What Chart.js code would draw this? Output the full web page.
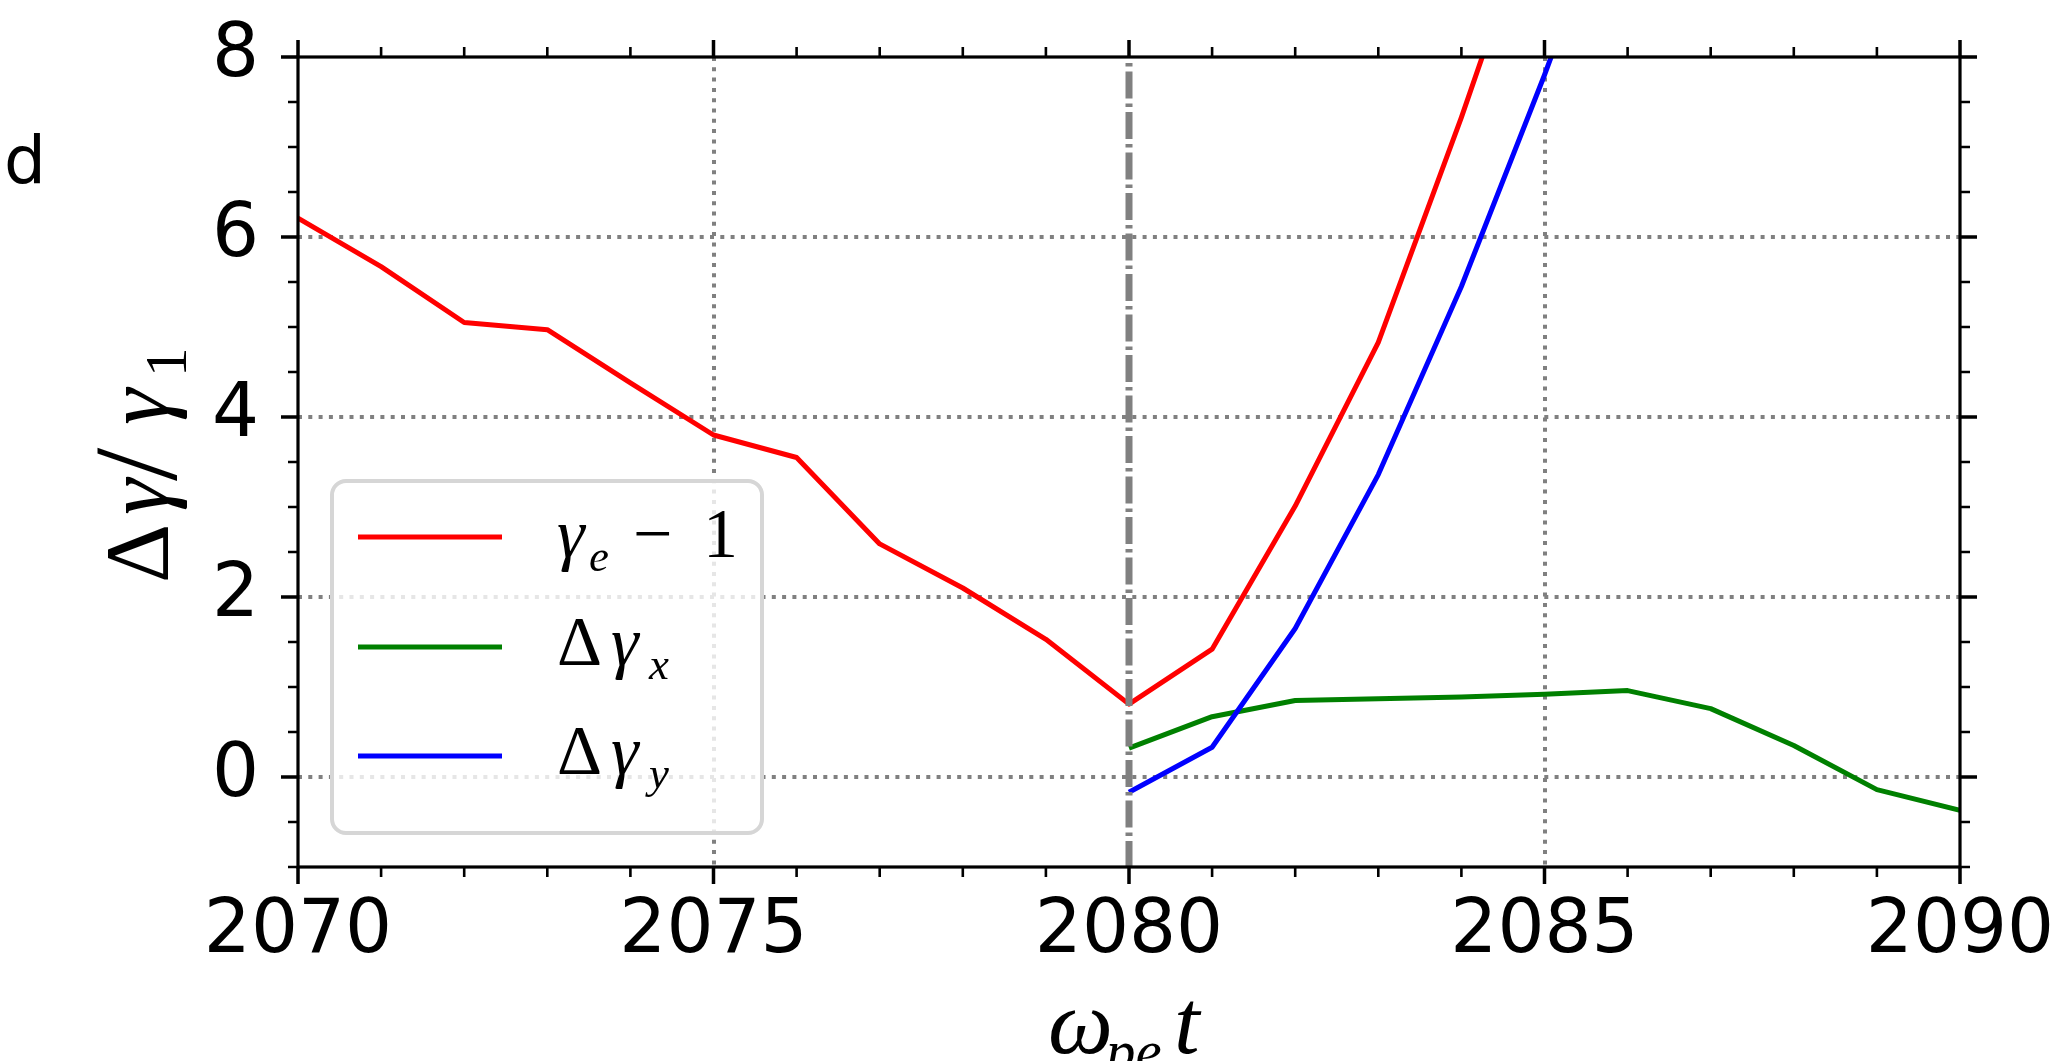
<!DOCTYPE html>
<html>
<head>
<meta charset="utf-8">
<script src="https://cdn.jsdelivr.net/npm/chart.js@4.4.0/dist/chart.umd.min.js"></script>
<style>
  html, body { margin: 0; padding: 0; background: #ffffff; }
  canvas { display: block; }
</style>
</head>
<body>
<canvas id="chart" width="2065" height="1061"></canvas>
<script>
// Axis ranges and tick labels
const timeStart = 2070;
const timeEnd = 2090;
const gammaMin = -1;
const gammaMax = 8;
const xTickLabels = [2070, 2075, 2080, 2085, 2090];
const yTickLabels = [0, 2, 4, 6, 8];

// gamma_e - 1
const redTimes  = [2070, 2071, 2072, 2073, 2074, 2075, 2076, 2077, 2078, 2079, 2080, 2081, 2082, 2083, 2084, 2085];
const redValues = [6.21, 5.67, 5.05, 4.97, 4.38, 3.80, 3.55, 2.59, 2.10, 1.53, 0.81, 1.42, 3.01, 4.83, 7.33, 10.0];

// Delta gamma_x
const greenTimes  = [2080, 2081, 2082, 2083, 2084, 2085, 2086, 2087, 2088, 2089, 2090];
const greenValues = [0.32, 0.67, 0.85, 0.87, 0.89, 0.92, 0.96, 0.76, 0.35, -0.14, -0.37];

// Delta gamma_y
const blueTimes  = [2080, 2081, 2082, 2083, 2084, 2085, 2086];
const blueValues = [-0.17, 0.33, 1.65, 3.36, 5.45, 7.80, 10.3];

// Time of the marked event
const markerTime = 2080;
const panelLetter = 'd';

const toPoints = (xs, ys) => xs.map((x, i) => ({ x: x, y: ys[i] }));

// minor tick positions
const xMinorTicks = [];
for (let t = timeStart; t <= timeEnd; t += 1) xMinorTicks.push(t);
const yMinorTicks = [];
for (let g = gammaMin; g <= gammaMax + 1e-9; g += 0.5) yMinorTicks.push(g);

const TICK_FONT = { family: '"DejaVu Sans"', size: 74, lineHeight: 1 };
const MATH_FONT = '"Liberation Serif", "DejaVu Serif", serif';

// draw a sequence of glyph runs; each run: text, italic, sub, position offset
function drawRuns(ctx, runs, size) {
  for (const r of runs) {
    const s = (r.sub ? size * 0.64 : size) * (r.k || 1);
    ctx.font = (r.it ? 'italic ' : '') + s + 'px ' + MATH_FONT;
    ctx.fillText(r.t, r.x, (r.sub ? size * 0.2 : 0) + (r.dy || 0));
  }
}

// dash-dot vertical marker drawn over the curves, inside the plot area
const markerLine = {
  id: 'markerLine',
  afterDatasetsDraw(chart) {
    const ctx = chart.ctx;
    const a = chart.chartArea;
    const px = chart.scales.x.getPixelForValue(markerTime);
    ctx.save();
    ctx.beginPath();
    ctx.rect(a.left, a.top, a.right - a.left, a.bottom - a.top);
    ctx.clip();
    ctx.strokeStyle = '#808080';
    ctx.lineWidth = 7;
    ctx.lineCap = 'butt';
    ctx.setLineDash([27, 5, 3.5, 5]);
    ctx.lineDashOffset = 26;
    ctx.beginPath();
    ctx.moveTo(px, chart.scales.y.getPixelForValue(gammaMax));
    ctx.lineTo(px, chart.scales.y.getPixelForValue(gammaMin));
    ctx.stroke();
    ctx.restore();
  }
};

const decorations = {
  id: 'decorations',
  afterDraw(chart) {
    const ctx = chart.ctx;
    const a = chart.chartArea;
    const xs = chart.scales.x, ys = chart.scales.y;
    ctx.save();

    // frame
    ctx.strokeStyle = '#000';
    ctx.lineWidth = 3.2;
    ctx.strokeRect(a.left, a.top, a.right - a.left, a.bottom - a.top);

    // outward ticks on all four sides
    ctx.lineCap = 'butt';
    for (const v of xMinorTicks) {
      const major = xTickLabels.includes(v);
      const len = major ? 17 : 10;
      ctx.lineWidth = major ? 3.5 : 2.6;
      const px = xs.getPixelForValue(v);
      ctx.beginPath();
      ctx.moveTo(px, a.bottom); ctx.lineTo(px, a.bottom + len);
      ctx.moveTo(px, a.top); ctx.lineTo(px, a.top - len);
      ctx.stroke();
    }
    for (const v of yMinorTicks) {
      const major = yTickLabels.includes(v);
      const len = major ? 17 : 10;
      ctx.lineWidth = major ? 3.5 : 2.6;
      const py = ys.getPixelForValue(v);
      ctx.beginPath();
      ctx.moveTo(a.left, py); ctx.lineTo(a.left - len, py);
      ctx.moveTo(a.right, py); ctx.lineTo(a.right + len, py);
      ctx.stroke();
    }

    // legend box
    const lx = 332, ly = 481, lw = 430, lh = 352, rad = 14;
    ctx.beginPath();
    ctx.roundRect(lx, ly, lw, lh, rad);
    ctx.fillStyle = 'rgba(255,255,255,0.8)';
    ctx.fill();
    ctx.lineWidth = 4;
    ctx.strokeStyle = '#d6d6d6';
    ctx.stroke();

    const entries = [
      { color: chart.data.datasets[2].borderColor, lineY: 537, base: 557,
        runs: [{ t: 'γ', it: true, x: 0 }, { t: 'e', it: true, sub: true, x: 32 },
               { t: '−', x: 76 }, { t: '1', x: 146 }] },
      { color: chart.data.datasets[1].borderColor, lineY: 647, base: 665,
        runs: [{ t: 'Δ', x: 0 }, { t: 'γ', it: true, x: 54 }, { t: 'x', it: true, sub: true, x: 92 }] },
      { color: chart.data.datasets[0].borderColor, lineY: 756, base: 774,
        runs: [{ t: 'Δ', x: 0 }, { t: 'γ', it: true, x: 54 }, { t: 'y', it: true, sub: true, x: 92 }] }
    ];
    ctx.lineWidth = 4.8;
    ctx.fillStyle = '#000';
    ctx.textBaseline = 'alphabetic';
    ctx.textAlign = 'left';
    for (const e of entries) {
      ctx.strokeStyle = e.color;
      ctx.beginPath();
      ctx.moveTo(358, e.lineY); ctx.lineTo(502, e.lineY);
      ctx.stroke();
      ctx.save();
      ctx.translate(557, e.base);
      drawRuns(ctx, e.runs, 70);
      ctx.restore();
    }

    // y axis title, rotated
    ctx.save();
    ctx.translate(168, 583);
    ctx.rotate(-Math.PI / 2);
    drawRuns(ctx, [
      { t: 'Δ', x: 0 }, { t: 'γ', it: true, x: 68 }, { t: '/', x: 102, k: 1.3, dy: 8 },
      { t: 'γ', it: true, x: 158 }, { t: '1', sub: true, x: 206 }
    ], 92);
    ctx.restore();

    // x axis title
    ctx.save();
    ctx.translate(1048, 1053);
    drawRuns(ctx, [
      { t: 'ω', it: true, x: 0 }, { t: 'pe', it: true, sub: true, x: 58 },
      { t: 't', it: true, x: 126 }
    ], 92);
    ctx.restore();

    // panel letter
    ctx.font = '66px "DejaVu Sans"';
    ctx.fillText(panelLetter, 4, 183);

    ctx.restore();
  }
};

const edgeAware = (edges) => (c) => edges.includes(c.tick && c.tick.value) ? 'rgba(0,0,0,0)' : '#808080';

// keep the plot area fixed: no extra room reserved for overhanging tick labels
const noOverhang = (s) => { s.paddingLeft = 0; s.paddingRight = 0; s.paddingTop = 0; s.paddingBottom = 0; };

new Chart(document.getElementById('chart'), {
  type: 'line',
  data: {
    datasets: [
      { label: 'Δγy', data: toPoints(blueTimes, blueValues), borderColor: '#0000ff',
        borderWidth: 5, pointRadius: 0, tension: 0 },
      { label: 'Δγx', data: toPoints(greenTimes, greenValues), borderColor: '#008000',
        borderWidth: 5, pointRadius: 0, tension: 0 },
      { label: 'γe − 1', data: toPoints(redTimes, redValues), borderColor: '#ff0000',
        borderWidth: 5, pointRadius: 0, tension: 0 }
    ]
  },
  options: {
    responsive: false,
    animation: false,
    devicePixelRatio: 1,
    layout: { padding: { top: 57, right: 105, left: 0, bottom: 0 } },
    plugins: { legend: { display: false }, tooltip: { enabled: false } },
    elements: { line: { borderCapStyle: 'butt', borderJoinStyle: 'round' } },
    scales: {
      x: {
        type: 'linear', position: 'bottom', min: timeStart, max: timeEnd,
        afterBuildTicks: (s) => { s.ticks = xTickLabels.map(v => ({ value: v })); },
        afterFit: (s) => { s.height = 194; noOverhang(s); },
        ticks: { font: TICK_FONT, color: '#000', padding: 29, maxRotation: 0, autoSkip: false,
                 callback: (v) => String(v) },
        grid: { color: edgeAware([timeStart, timeEnd, markerTime]), lineWidth: 4, drawTicks: false },
        border: { display: false, dash: [4, 6.3] }
      },
      y: {
        type: 'linear', position: 'left', min: gammaMin, max: gammaMax,
        afterBuildTicks: (s) => { s.ticks = yTickLabels.map(v => ({ value: v })); },
        afterFit: (s) => { s.width = 298; noOverhang(s); },
        ticks: { font: TICK_FONT, color: '#000', padding: 39, callback: (v) => String(v) },
        grid: { color: edgeAware([gammaMax]), lineWidth: 4, drawTicks: false },
        border: { display: false, dash: [4, 6.3] }
      }
    }
  },
  plugins: [markerLine, decorations]
});
</script>
</body>
</html>
